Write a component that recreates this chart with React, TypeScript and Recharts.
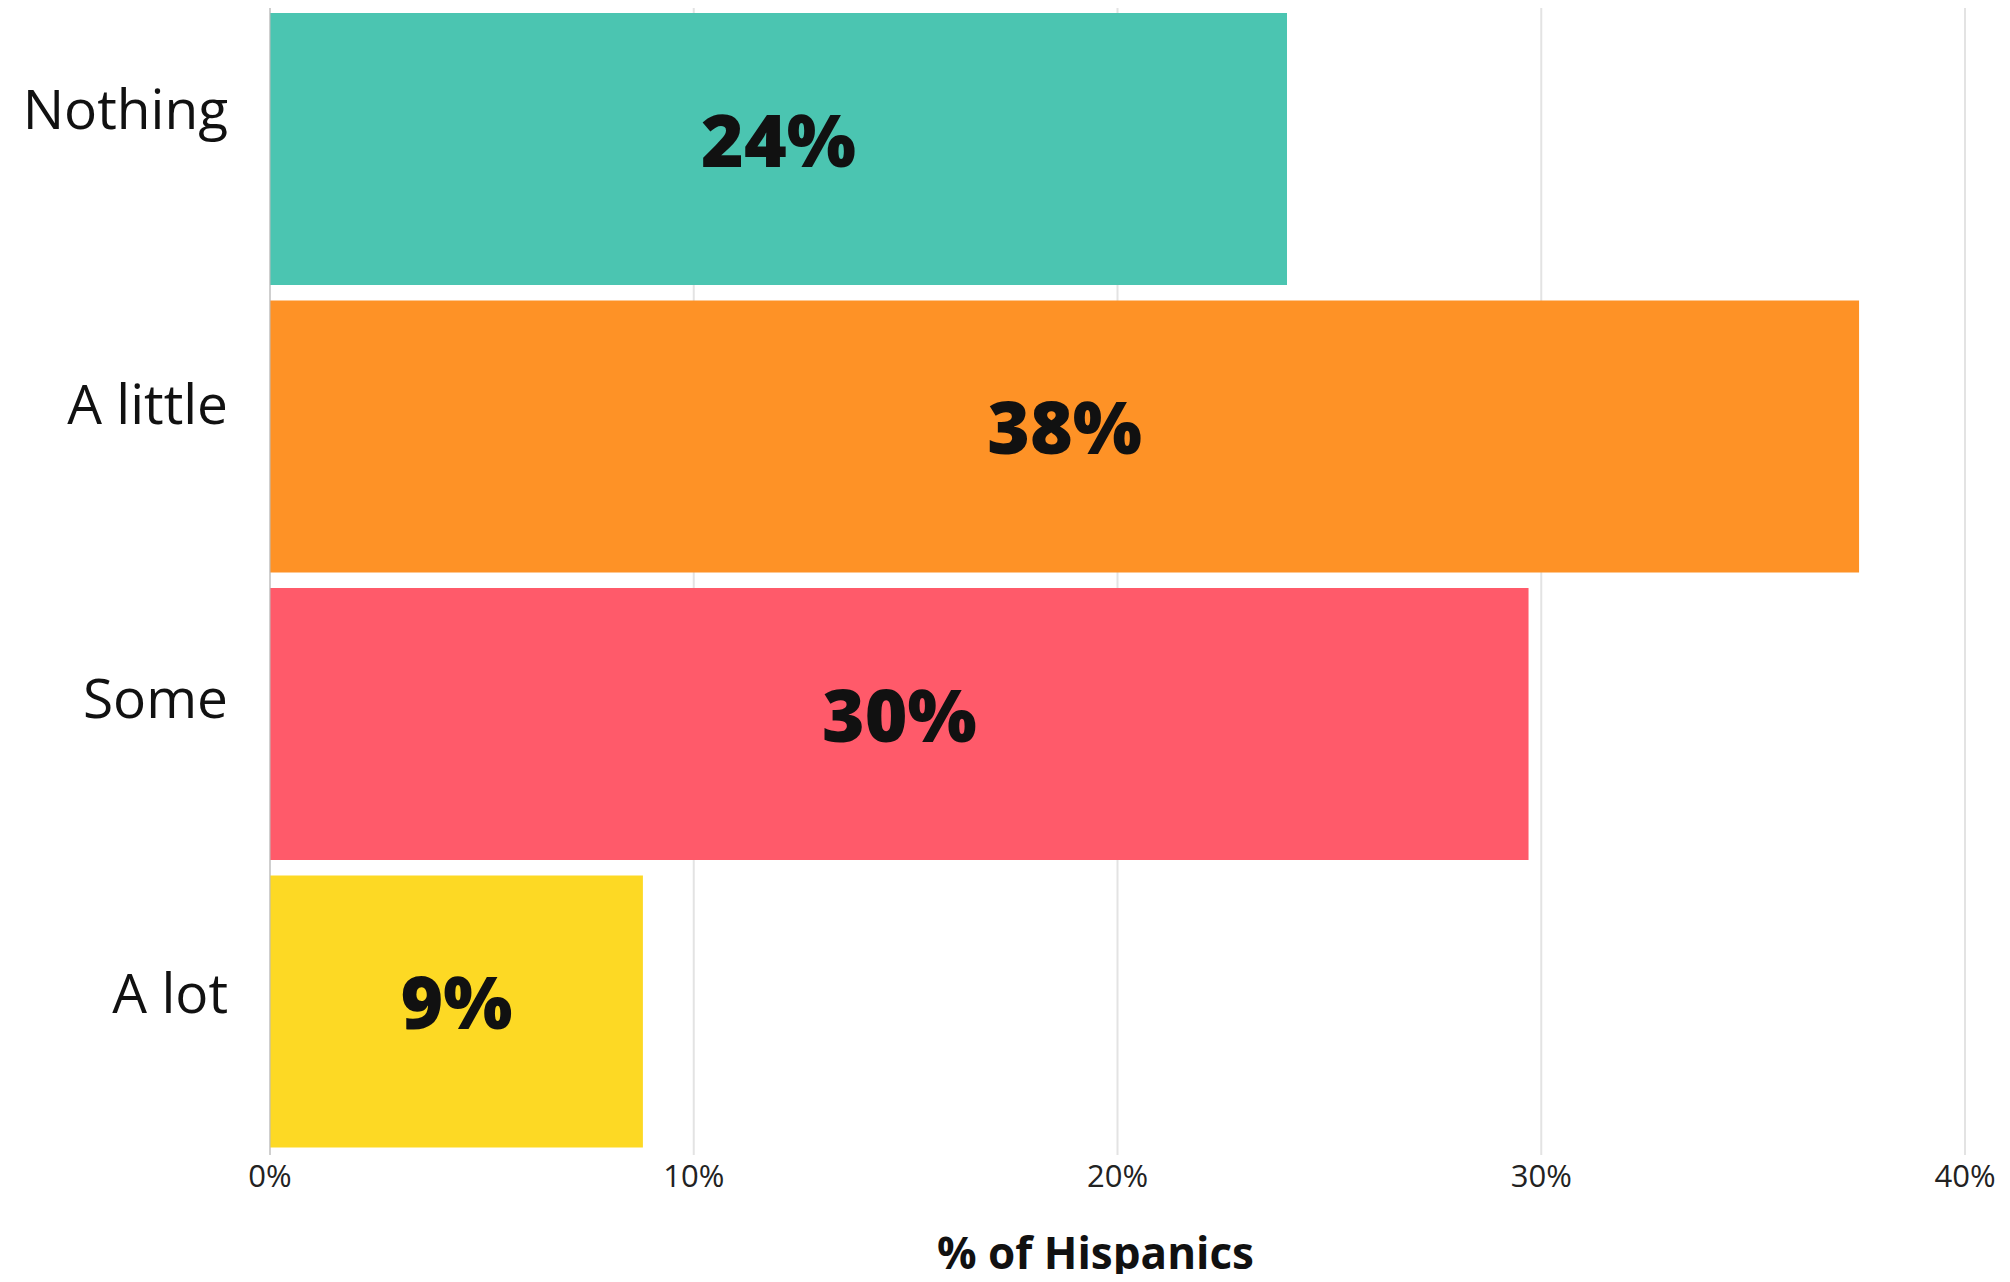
// Horizontal bar chart: how much Hispanics have heard about the topic.
import { BarChart, Bar, XAxis, YAxis, CartesianGrid, Cell, LabelList, Label } from "recharts";

const categories = ["Nothing", "A little", "Some", "A lot"];
const shares = [24.0, 37.5, 29.7, 8.8];
const shareLabels = ["24%", "38%", "30%", "9%"];
const barColors = ["#4BC5B1", "#FE9226", "#FF5A6A", "#FDD924"];
const xTicks = [0, 10, 20, 30, 40];

const data = categories.map((name, i) => ({ name, share: shares[i], label: shareLabels[i] }));

const FONT = "'Open Sans', 'Noto Sans', sans-serif";

// category labels sit a bit above the bar centres, drifting less towards the bottom
function CategoryTick({ x, y, payload, index }: any) {
  return (
    <text
      x={x}
      y={y}
      dy={-41 + (index ?? 0) * 7}
      textAnchor="end"
      dominantBaseline="central"
      fontFamily={FONT}
      fontSize={55}
      fill="#111"
    >
      {payload.value}
    </text>
  );
}

function ShareLabel({ x, y, width, height, value }: any) {
  return (
    <text
      x={x + width / 2}
      y={y + height / 2 - 11}
      textAnchor="middle"
      dominantBaseline="central"
      fontFamily={FONT}
      fontWeight={800}
      fontSize={73}
      fill="#111"
    >
      {value}
    </text>
  );
}

export default function App() {
  return (
    <div style={{ margin: -8, background: "#fff", width: 2010, height: 1282 }}>
      <BarChart
        width={2010}
        height={1282}
        data={data}
        layout="vertical"
        margin={{ top: 5, right: 45, bottom: 0, left: 0 }}
        barCategoryGap={8}
      >
        <CartesianGrid horizontal={false} stroke="#e3e3e3" strokeWidth={2} />
        <XAxis
          type="number"
          dataKey="share"
          domain={[0, 40]}
          ticks={xTicks}
          tickFormatter={(v) => `${v}%`}
          axisLine={false}
          tickLine={false}
          tickSize={0}
          tickMargin={10}
          height={127}
          tick={{ fontFamily: FONT, fontSize: 31, fill: "#222" }}
          interval={0}
        >
          <Label
            content={({ viewBox }: any) => (
              <text
                x={viewBox.x + viewBox.width / 2 - 22}
                y={viewBox.y + 97}
                textAnchor="middle"
                dominantBaseline="central"
                fontFamily={FONT}
                fontWeight={700}
                fontSize={44}
                fill="#111"
              >
                % of Hispanics
              </text>
            )}
          />
        </XAxis>
        <YAxis
          type="category"
          dataKey="name"
          width={270}
          axisLine={{ stroke: "#bbb", strokeWidth: 1 }}
          tickLine={false}
          tickSize={0}
          tickMargin={42}
          tick={<CategoryTick />}
        />
        <Bar dataKey="share" isAnimationActive={false}>
          {data.map((_, i) => (
            <Cell key={i} fill={barColors[i]} />
          ))}
          <LabelList dataKey="label" content={<ShareLabel />} />
        </Bar>
      </BarChart>
    </div>
  );
}
